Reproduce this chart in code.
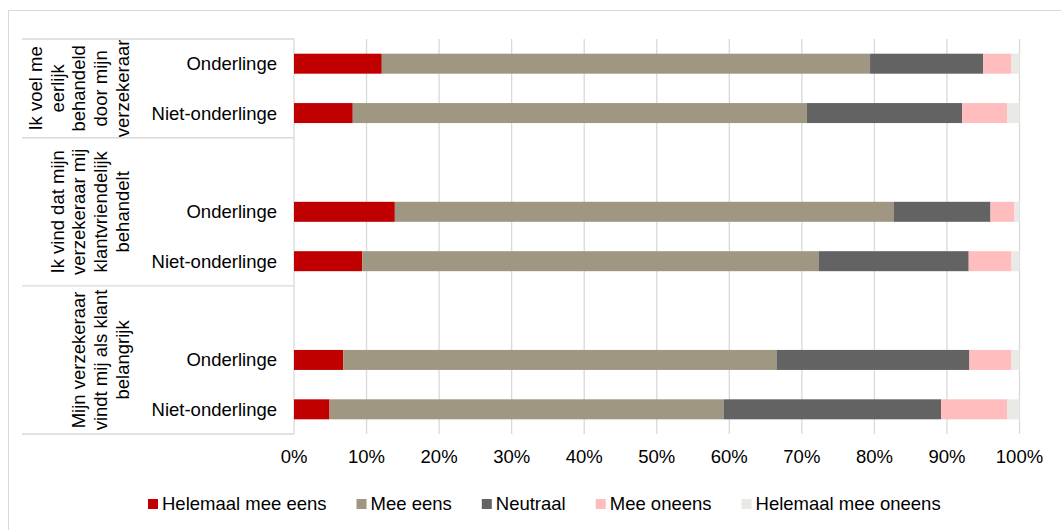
<!DOCTYPE html>
<html>
<head>
<meta charset="utf-8">
<script src="https://cdn.jsdelivr.net/npm/d3@7"></script>
<style>
  body { margin: 0; background: #fff; }
  svg text { font-family: "Liberation Sans", Arial, sans-serif; font-size: 18.5px; fill: #000; }
</style>
</head>
<body>
<div class="canvas"></div>
<script>
// response categories (stack order, left to right)
var series = ["Helemaal mee eens", "Mee eens", "Neutraal", "Mee oneens", "Helemaal mee oneens"];
var colors = ["#c00000", "#a09782", "#636363", "#ffbdbd", "#e9e9e5"];

// question groups (rotated labels, one entry per line)
var groups = [
  ["Ik voel me", "eerlijk", "behandeld", "door mijn", "verzekeraar"],
  ["Ik vind dat mijn", "verzekeraar mij", "klantvriendelijk", "behandelt"],
  ["Mijn verzekeraar", "vindt mij als klant", "belangrijk"]
];

// category slots, top to bottom; empty label = blank slot in the group
var slotGroup = [0, 0, 1, 1, 1, 2, 2, 2];
var slotLabel = ["Onderlinge", "Niet-onderlinge", "", "Onderlinge", "Niet-onderlinge", "", "Onderlinge", "Niet-onderlinge"];

// percentages per slot, in series order (null = blank slot)
var helemaalEens = [12.1, 8.1, null, 13.9, 9.4, null, 6.8, 4.9];
var meeEens = [67.3, 62.6, null, 68.8, 62.9, null, 59.7, 54.3];
var neutraal = [15.6, 21.4, null, 13.3, 20.7, null, 26.6, 30.0];
var meeOneens = [3.9, 6.2, null, 3.3, 5.9, null, 5.8, 9.1];
var helemaalOneens = [1.1, 1.7, null, 0.7, 1.1, null, 1.1, 1.7];

var ticks = [0, 10, 20, 30, 40, 50, 60, 70, 80, 90, 100];

var width = 1061,
  height = 530;

var svg = d3
  .select(".canvas")
  .append("svg")
  .attr("width", width)
  .attr("height", height);

// chart border
svg
  .append("rect")
  .attr("x", 8.5)
  .attr("y", 10.5)
  .attr("width", 1200)
  .attr("height", 700)
  .style("fill", "none")
  .style("stroke", "#d9d9d9")
  .style("stroke-width", 1);

var plotTop = 39,
  plotBottom = 434;

var x = d3
  .scaleLinear()
  .domain([0, 100])
  .range([294, 1019.5]);

var y = d3
  .scaleBand()
  .domain(d3.range(slotLabel.length))
  .range([plotTop, plotBottom])
  .paddingInner(0.595)
  .paddingOuter(0.2975);

// gridlines
svg
  .selectAll(".grid")
  .data(ticks)
  .enter()
  .append("line")
  .attr("class", "grid")
  .attr("x1", function(d) {
    return x(d);
  })
  .attr("x2", function(d) {
    return x(d);
  })
  .attr("y1", plotTop)
  .attr("y2", plotBottom)
  .style("stroke", "#d9d9d9")
  .style("stroke-width", 1.3);

// stacked rows
var rows = slotLabel
  .map(function(label, i) {
    return {
      slot: i,
      values: [helemaalEens[i], meeEens[i], neutraal[i], meeOneens[i], helemaalOneens[i]]
    };
  })
  .filter(function(r) {
    return r.values[0] !== null;
  });

var segs = [];
rows.forEach(function(r) {
  var acc = 0;
  r.values.forEach(function(v, k) {
    segs.push({ slot: r.slot, k: k, x0: acc, x1: acc + v });
    acc += v;
  });
});

svg
  .selectAll(".seg")
  .data(segs)
  .enter()
  .append("rect")
  .attr("class", "seg")
  .attr("x", function(d) {
    return x(d.x0);
  })
  .attr("width", function(d) {
    return x(d.x1) - x(d.x0);
  })
  .attr("y", function(d) {
    return y(d.slot);
  })
  .attr("height", y.bandwidth())
  .style("fill", function(d) {
    return colors[d.k];
  });

// group boxes on the category axis
var bounds = [0];
groups.forEach(function(g, gi) {
  var n = slotGroup.filter(function(s) {
    return s === gi;
  }).length;
  bounds.push(bounds[bounds.length - 1] + n);
});
var step = y.step();

svg
  .selectAll(".gline")
  .data(bounds)
  .enter()
  .append("line")
  .attr("class", "gline")
  .attr("x1", 22)
  .attr("x2", 294)
  .attr("y1", function(d) {
    return plotTop + d * step;
  })
  .attr("y2", function(d) {
    return plotTop + d * step;
  })
  .style("stroke", "#d9d9d9")
  .style("stroke-width", 1.3);

// rotated group labels
groups.forEach(function(lines, gi) {
  var cy = plotTop + ((bounds[gi] + bounds[gi + 1]) / 2) * step;
  lines.forEach(function(t, li) {
    var bx = 128.5 - (lines.length - 1 - li) * 21.6;
    svg
      .append("text")
      .attr("transform", "translate(" + bx + "," + cy + ") rotate(-90)")
      .attr("text-anchor", "middle")
      .text(t);
  });
});

// category labels
svg
  .selectAll(".catlabel")
  .data(slotLabel)
  .enter()
  .append("text")
  .attr("class", "catlabel")
  .attr("x", 277)
  .attr("y", function(d, i) {
    return y(i) + y.bandwidth() / 2;
  })
  .attr("dy", "0.35em")
  .attr("text-anchor", "end")
  .text(function(d) {
    return d;
  });

// x tick labels
svg
  .selectAll(".tick")
  .data(ticks)
  .enter()
  .append("text")
  .attr("class", "tick")
  .attr("x", function(d) {
    return x(d);
  })
  .attr("y", 463)
  .attr("text-anchor", "middle")
  .text(function(d) {
    return d + "%";
  });

// legend
var legend = svg.append("g").attr("transform", "translate(148,0)");
var lx = 0;
series.forEach(function(s, k) {
  legend
    .append("rect")
    .attr("x", lx)
    .attr("y", 499)
    .attr("width", 10)
    .attr("height", 10)
    .style("fill", colors[k]);
  var t = legend
    .append("text")
    .attr("x", lx + 14)
    .attr("y", 510)
    .text(s);
  lx += 14 + t.node().getComputedTextLength() + 30;
});
</script>
</body>
</html>
